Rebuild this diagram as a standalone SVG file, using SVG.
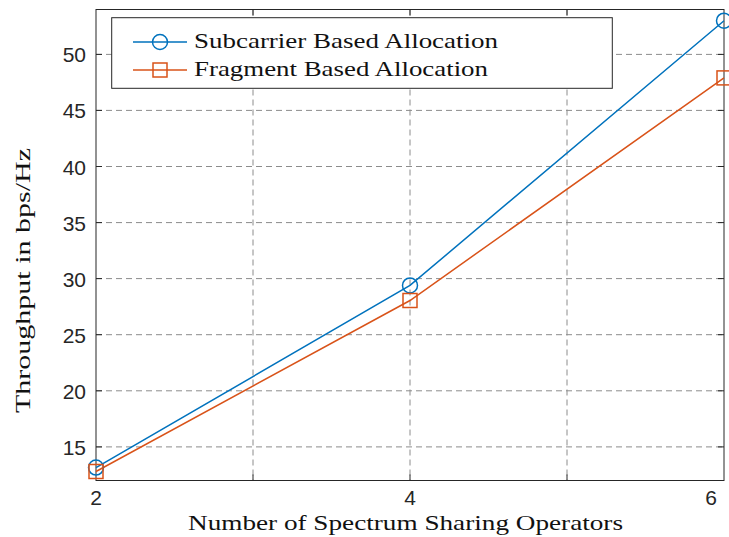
<svg xmlns="http://www.w3.org/2000/svg" width="729" height="537" viewBox="0 0 729 537">
<style>
.grid{stroke:#8c8c8c;stroke-width:1;stroke-dasharray:6,4;fill:none}
.ax{stroke:#262626;stroke-width:1;fill:none}
.tick{font-family:"Liberation Sans",Arial,sans-serif;font-size:21px;fill:#262626}
.lab{font-family:"Liberation Serif","Times New Roman",serif;font-size:21px;fill:#111}
.s{stroke:#0072BD;stroke-width:1.5;fill:none}
.f{stroke:#D95319;stroke-width:1.5;fill:none}
</style>
<rect width="729" height="537" fill="#fff"/>
<g id="grid">
<path class="grid" d="M96 446.9H724M96 390.8H724M96 334.7H724M96 278.6H724M96 222.6H724M96 166.5H724M96 110.4H724M96 54.4H724M253 9.5V480.5M410 9.5V480.5M567 9.5V480.5"/>
</g>
<g id="axes">
<rect class="ax" x="96" y="9.5" width="628" height="471"/>
<path class="ax" d="M96 446.9h6M96 390.8h6M96 334.7h6M96 278.6h6M96 222.6h6M96 166.5h6M96 110.4h6M96 54.4h6M724 446.9h-6M724 390.8h-6M724 334.7h-6M724 278.6h-6M724 222.6h-6M724 166.5h-6M724 110.4h-6M724 54.4h-6M253 480.5v-6M410 480.5v-6M567 480.5v-6M253 9.5v6M410 9.5v6M567 9.5v6"/>
</g>
<g id="yticks" class="tick" text-anchor="end">
<text x="86" y="454.9">15</text>
<text x="86" y="398.8">20</text>
<text x="86" y="342.7">25</text>
<text x="86" y="286.6">30</text>
<text x="86" y="230.6">35</text>
<text x="86" y="174.5">40</text>
<text x="86" y="118.4">45</text>
<text x="86" y="62.4">50</text>
</g>
<g id="xticks" class="tick" text-anchor="middle">
<text x="96" y="505">2</text>
<text x="410" y="505">4</text>
<text x="711" y="505">6</text>
</g>
<g id="xlabel"><text class="lab" x="405.5" y="530" text-anchor="middle" textLength="435" lengthAdjust="spacingAndGlyphs">Number of Spectrum Sharing Operators</text></g>
<g id="ylabel"><text class="lab" transform="translate(30,280.5) rotate(-90)" x="0" y="0" text-anchor="middle" textLength="265" lengthAdjust="spacingAndGlyphs">Throughput in bps/Hz</text></g>
<g id="connectors">
<polyline id="subcarrier-line" class="s" points="96,467.6 410,285.4 724,20.7"/>
<polyline id="fragment-line" class="f" points="96,471.5 410,300.5 724,77.9"/>
</g>
<g id="subcarrier-markers" class="s">
<circle cx="96" cy="467.6" r="7.5"/>
<circle cx="410" cy="285.4" r="7.5"/>
<circle cx="724" cy="20.7" r="7.5"/>
</g>
<g id="fragment-markers" class="f">
<rect x="89" y="464.5" width="14" height="14"/>
<rect x="403" y="293.5" width="14" height="14"/>
<rect x="717" y="70.9" width="14" height="14"/>
</g>
<g id="legend">
<rect x="111.7" y="17.7" width="500.6" height="70.6" fill="#fff" stroke="#262626" stroke-width="1"/>
<path class="s" d="M133 42H187"/>
<circle class="s" cx="160" cy="42" r="7.5" fill="#fff"/>
<path class="f" d="M133 70H187"/>
<rect class="f" x="153" y="63" width="14" height="14"/>
<text class="lab" x="194" y="48" textLength="304" lengthAdjust="spacingAndGlyphs">Subcarrier Based Allocation</text>
<text class="lab" x="194" y="76" textLength="294" lengthAdjust="spacingAndGlyphs">Fragment Based Allocation</text>
</g>
</svg>
